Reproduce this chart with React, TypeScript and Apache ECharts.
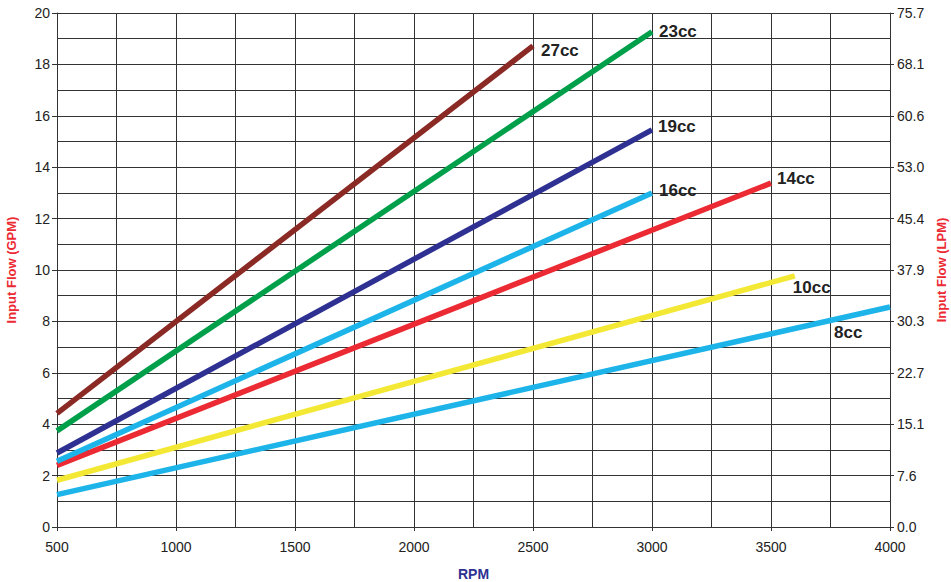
import React, { useEffect, useRef } from "react";
import * as echarts from "echarts";

const seriesNames = ["27cc", "23cc", "19cc", "16cc", "14cc", "10cc", "8cc"];
const seriesColors = ["#8B2A24", "#00A04B", "#2E3192", "#1CB4E9", "#EC2A33", "#F3E834", "#1CB4E9"];
// [rpm, gpm] start and end points
const flow27: [number, number][] = [[500, 4.42], [2500, 18.72]];
const flow23: [number, number][] = [[500, 3.74], [3000, 19.27]];
const flow19: [number, number][] = [[500, 2.88], [3000, 15.45]];
const flow16: [number, number][] = [[500, 2.56], [3000, 13.0]];
const flow14: [number, number][] = [[500, 2.4], [3500, 13.38]];
const flow10: [number, number][] = [[500, 1.82], [3600, 9.77]];
const flow8: [number, number][] = [[500, 1.26], [4000, 8.56]];
const seriesData = [flow27, flow23, flow19, flow16, flow14, flow10, flow8];
const labelOffsets: [number, number][] = [[8, 5], [7, 0], [6, -3], [7, -2], [6, -5], [-2, 12], [-56, 25]];
const lpmLabels = ["0.0", "7.6", "15.1", "22.7", "30.3", "37.9", "45.4", "53.0", "60.6", "68.1", "75.7"];

const FONT = "Arial, 'Liberation Sans', Helvetica, sans-serif";
const GRID = "#333";

export default function App() {
  const ref = useRef<HTMLDivElement>(null);
  useEffect(() => {
    if (!ref.current) return;
    const chart = echarts.init(ref.current, undefined, { renderer: "svg" });
    chart.setOption({
      animation: false,
      backgroundColor: "#fff",
      textStyle: { fontFamily: FONT },
      grid: { left: 57, right: 61, top: 13, bottom: 55, containLabel: false, outerBoundsMode: "none" },
      xAxis: {
        type: "value",
        min: 500,
        max: 4000,
        interval: 500,
        name: "RPM",
        nameLocation: "middle",
        nameGap: 40,
        nameTextStyle: { color: "#2E3192", fontWeight: "bold", fontSize: 14, fontFamily: FONT },
        axisLine: { show: true, lineStyle: { color: GRID, width: 1 } },
        axisTick: { show: true, length: 4, inside: false, lineStyle: { color: GRID } },
        axisLabel: { color: "#222", fontSize: 14, margin: 13, fontFamily: FONT, formatter: (v: number) => String(v) },
        splitLine: { show: true, lineStyle: { color: GRID, width: 1 } },
        minorTick: { show: false, splitNumber: 2 },
        minorSplitLine: { show: true, lineStyle: { color: GRID, width: 1 } },
      },
      yAxis: [
        {
          type: "value",
          min: 0,
          max: 20,
          interval: 2,
          position: "left",
          name: "Input Flow (GPM)",
          nameLocation: "middle",
          nameGap: 39,
          nameTextStyle: { color: "#EC2A33", fontWeight: "bold", fontSize: 13, fontFamily: FONT },
          axisLine: { show: true, lineStyle: { color: GRID, width: 1 } },
          axisTick: { show: true, length: 5, lineStyle: { color: GRID } },
          axisLabel: { color: "#222", fontSize: 14, margin: 7, fontFamily: FONT, formatter: (v: number) => String(v) },
          splitLine: { show: true, lineStyle: { color: GRID, width: 1 } },
          minorTick: { show: false, splitNumber: 2 },
          minorSplitLine: { show: true, lineStyle: { color: GRID, width: 1 } },
        },
        {
          type: "value",
          min: 0,
          max: 20,
          interval: 2,
          position: "right",
          name: "Input Flow (LPM)",
          nameLocation: "middle",
          nameGap: 45,
          nameRotate: 90,
          nameTextStyle: { color: "#EC2A33", fontWeight: "bold", fontSize: 13, fontFamily: FONT },
          axisLine: { show: true, lineStyle: { color: GRID, width: 1 } },
          axisTick: { show: true, length: 4, lineStyle: { color: GRID } },
          axisLabel: {
            color: "#222",
            fontSize: 14,
            margin: 7,
            fontFamily: FONT,
            formatter: (v: number) => lpmLabels[Math.round(v / 2)] ?? "",
          },
          splitLine: { show: false },
        },
      ],
      series: seriesNames.map((name, i) => ({
        name,
        type: "line",
        data: seriesData[i],
        showSymbol: false,
        symbol: "none",
        lineStyle: { color: seriesColors[i], width: 5.5, cap: "butt" },
        itemStyle: { color: seriesColors[i] },
        z: 10 - i,
        endLabel: {
          show: true,
          formatter: name,
          distance: 0,
          offset: labelOffsets[i],
          align: "left",
          verticalAlign: "middle",
          color: "#222",
          fontWeight: "bold",
          fontSize: 17,
          fontFamily: FONT,
        },
      })),
    });
    return () => chart.dispose();
  }, []);
  return <div ref={ref} style={{ width: 951, height: 582, position: "absolute", left: 0, top: 0 }} />;
}
